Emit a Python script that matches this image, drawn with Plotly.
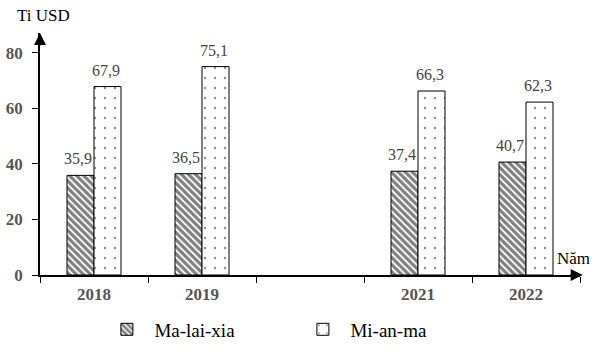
import plotly.graph_objects as go

years = ["2018", "2019", "2020", "2021", "2022"]
tick_labels = ["2018", "2019", "", "2021", "2022"]
malaysia = [35.9, 36.5, None, 37.4, 40.7]
myanmar = [67.9, 75.1, None, 66.3, 62.3]
y_ticks = [0, 20, 40, 60, 80]

def fmt(v):
    return f"{v:.1f}".replace(".", ",")

SERIF = "Liberation Serif, Times New Roman, serif"

fig = go.Figure()
fig.add_trace(go.Bar(
    x=years, y=malaysia, name="Ma-lai-xia",
    marker=dict(color="white", line=dict(color="black", width=1),
                pattern=dict(shape="\\", fgcolor="black", bgcolor="white",
                             size=5, solidity=0.65, fillmode="overlay")),
))
fig.add_trace(go.Bar(
    x=years, y=myanmar, name="Mi-an-ma",
    marker=dict(color="white", line=dict(color="black", width=1),
                pattern=dict(shape=".", fgcolor="#222", bgcolor="white",
                             size=10, solidity=0.05, fillmode="overlay")),
))

annotations = []
for series, shift in ((malaysia, -14), (myanmar, 14)):
    for i, v in enumerate(series):
        if v is None:
            continue
        annotations.append(dict(
            x=i, y=v, xref="x", yref="y", text=fmt(v), showarrow=False,
            xshift=shift - 2, yshift=6, yanchor="bottom",
            font=dict(family=SERIF, size=16, color="#444")))

annotations += [
    dict(xref="paper", yref="paper", x=0, y=1, ax=0, ay=14,
         showarrow=True, arrowhead=2, arrowsize=1.6, arrowwidth=1.5,
         arrowcolor="black", text=""),
    dict(xref="paper", yref="paper", x=1.005, y=0, ax=-14, ay=0,
         showarrow=True, arrowhead=2, arrowsize=1.6, arrowwidth=1.5,
         arrowcolor="black", text=""),
    dict(xref="paper", yref="paper", x=-0.047, y=1.025, xanchor="left", yanchor="bottom",
         showarrow=False, text="Ti USD", font=dict(family=SERIF, size=17, color="black")),
    dict(xref="paper", yref="paper", x=1.022, y=0.02, xanchor="right", yanchor="bottom",
         showarrow=False, text="Năm", font=dict(family=SERIF, size=17, color="black")),
]

fig.update_layout(
    width=601, height=352,
    margin=dict(l=40, r=21, t=33, b=77, autoexpand=False),
    paper_bgcolor="white", plot_bgcolor="white",
    barmode="group", bargap=0.5, bargroupgap=0,
    font=dict(family=SERIF, color="black"),
    showlegend=True,
    legend=dict(orientation="h", x=0.11, xanchor="left", y=-0.225, yanchor="middle",
                entrywidth=136, entrywidthmode="pixels", itemwidth=45,
                font=dict(family=SERIF, size=19, color="black"),
                bgcolor="rgba(0,0,0,0)"),
    xaxis=dict(type="category", categoryorder="array", categoryarray=years,
               tickmode="array", tickvals=years, ticktext=tick_labels,
               range=[-0.5, 4.5], tickson="boundaries",
               showline=True, linecolor="black", linewidth=1.5,
               ticks="outside", ticklen=6, tickcolor="black", tickwidth=1,
               ticklabelstandoff=3,
               tickfont=dict(family=SERIF, size=17, color="#555", weight="bold"),
               showgrid=False, zeroline=False, fixedrange=True),
    yaxis=dict(range=[0, 87.2], tickvals=y_ticks,
               showline=True, linecolor="black", linewidth=1.5,
               ticks="outside", ticklen=6, tickcolor="black", tickwidth=1,
               ticklabelstandoff=6,
               tickfont=dict(family=SERIF, size=17, color="#555", weight="bold"),
               showgrid=False, zeroline=False, fixedrange=True),
    annotations=annotations,
)

fig.write_html("out.html")
